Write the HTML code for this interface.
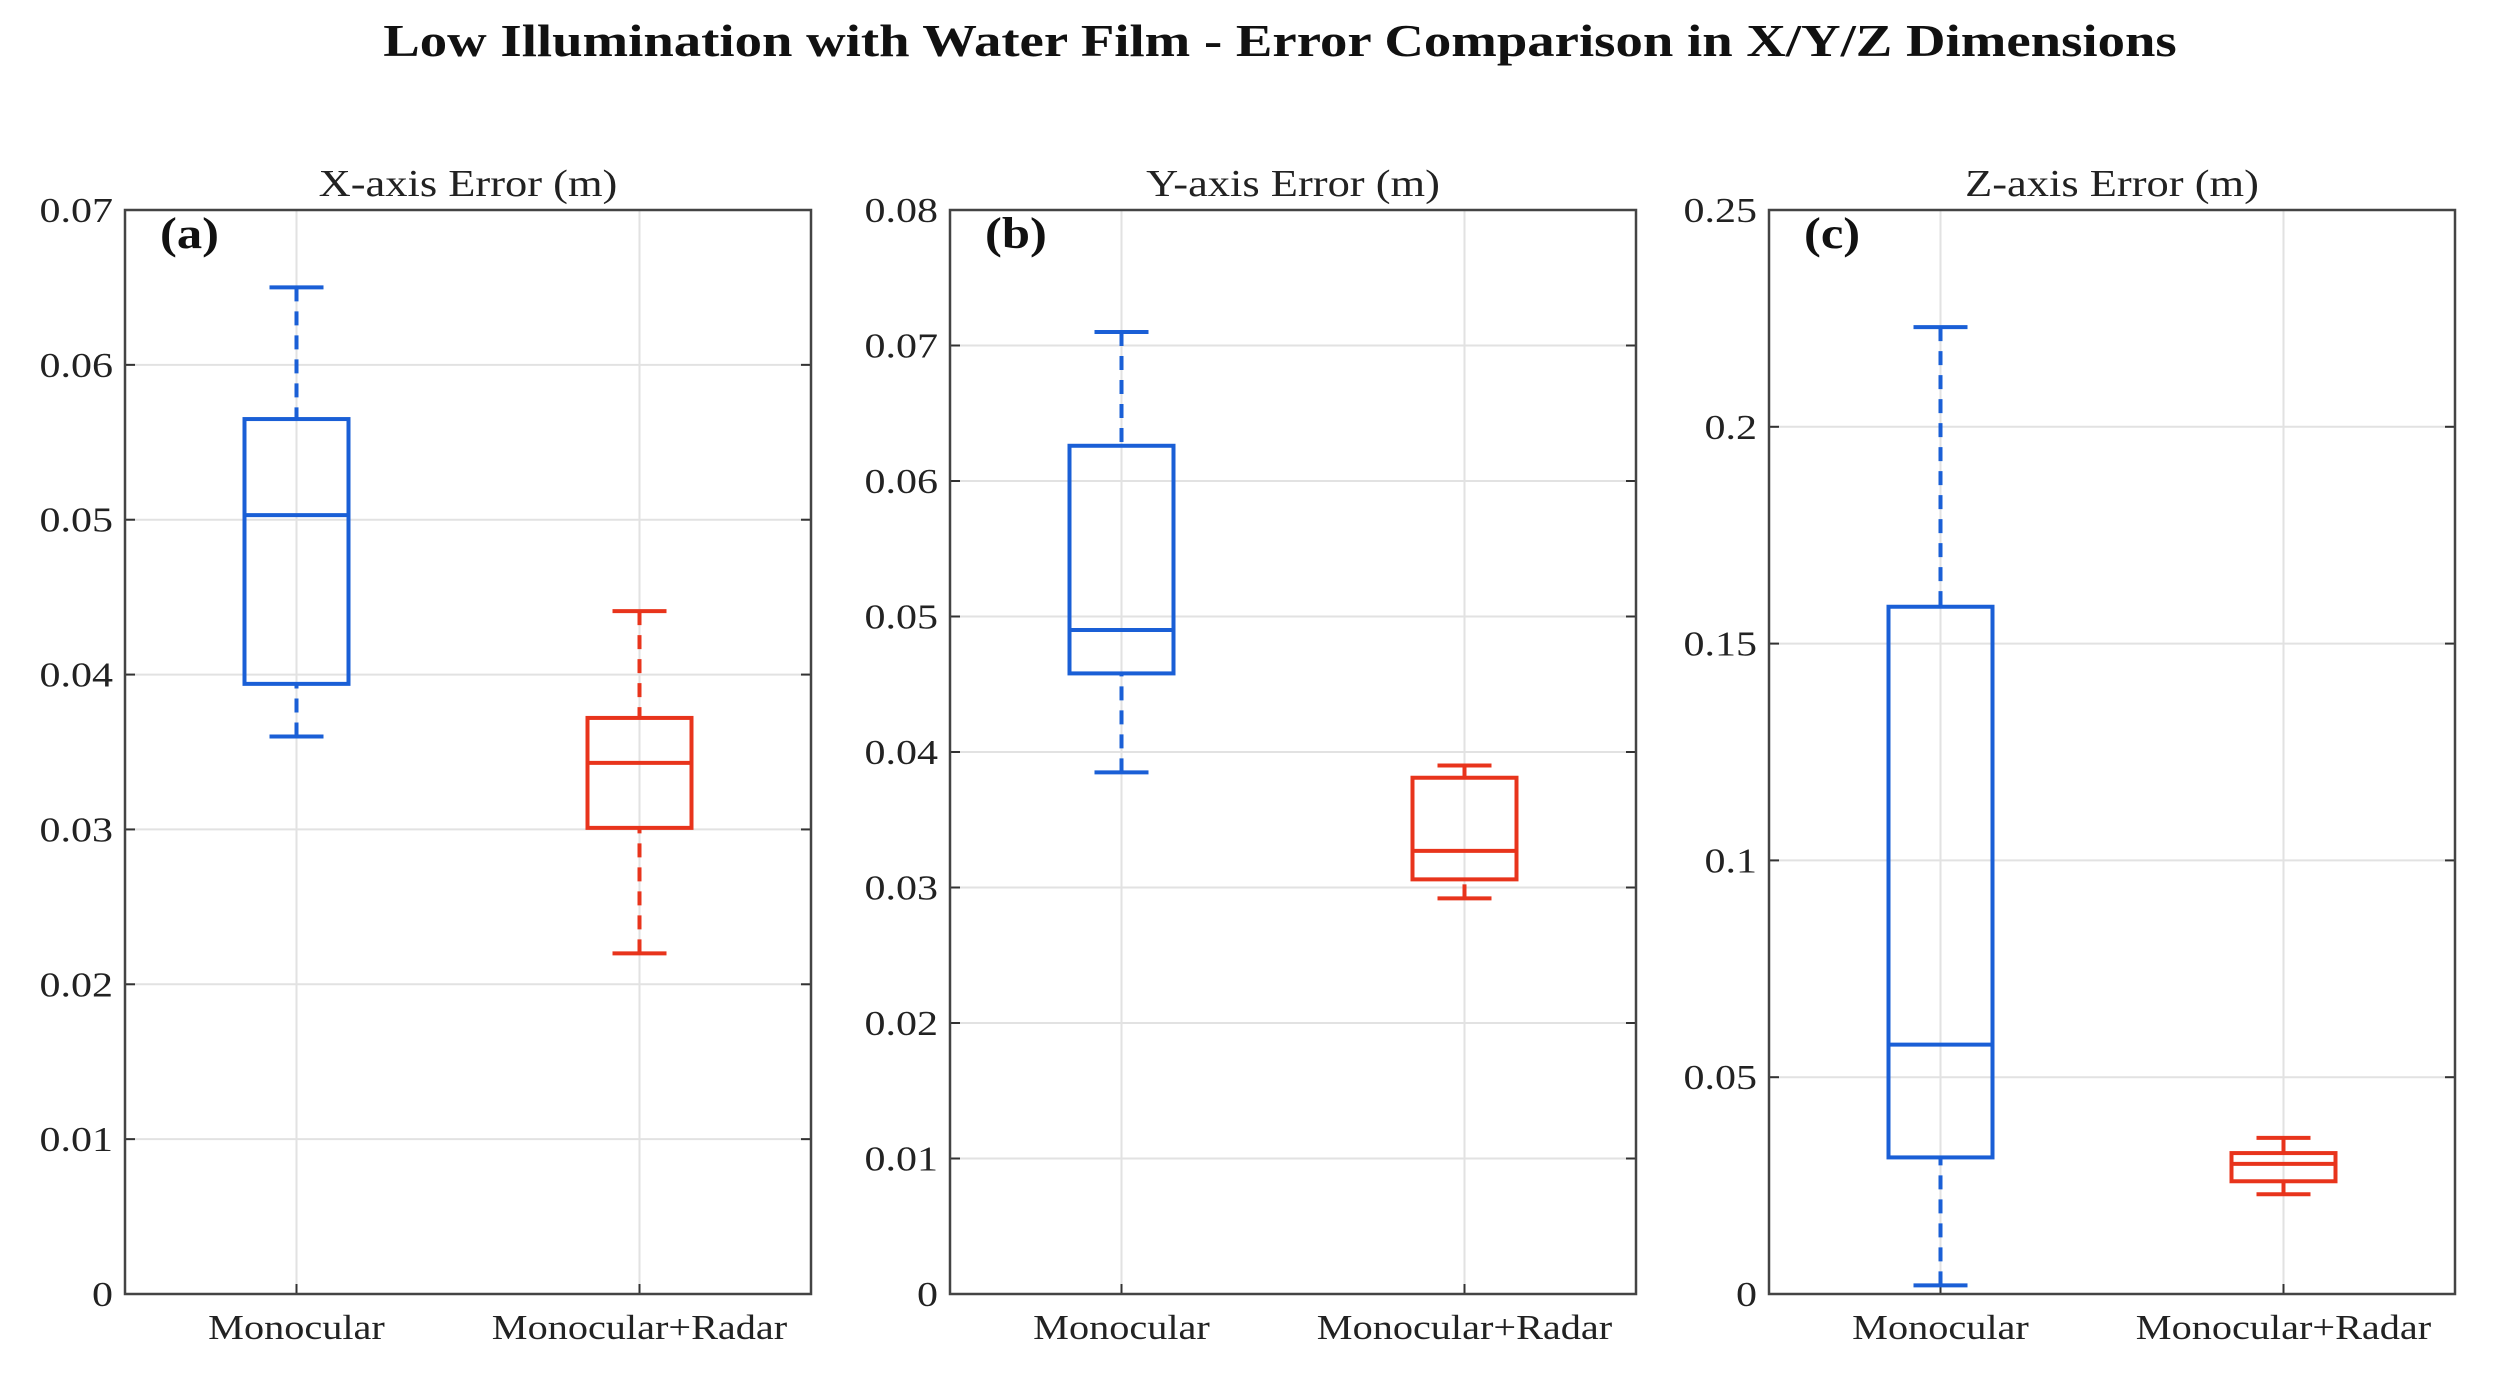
<!DOCTYPE html>
<html><head><meta charset="utf-8">
<style>
html,body{margin:0;padding:0;background:#fff;}
svg{display:block;font-family:"Liberation Serif",serif;}
</style></head>
<body>
<svg id="chart" width="2495" height="1374" viewBox="0 0 2495 1374">
<text id="mainTitle" x="1280" y="56" text-anchor="middle" font-size="46" font-weight="bold" fill="#111">Low Illumination with Water Film - Error Comparison in X/Y/Z Dimensions</text>
</svg>
<script>
const categories = ["Monocular", "Monocular+Radar"];
const panelTitles = ["X-axis Error (m)", "Y-axis Error (m)", "Z-axis Error (m)"];
const panelLetters = ["(a)", "(b)", "(c)"];
const yMax = [0.07, 0.08, 0.25];
const tickValsA = [0, 0.01, 0.02, 0.03, 0.04, 0.05, 0.06, 0.07];
const tickValsB = [0, 0.01, 0.02, 0.03, 0.04, 0.05, 0.06, 0.07, 0.08];
const tickValsC = [0, 0.05, 0.1, 0.15, 0.2, 0.25];
const tickLabelsA = ["0","0.01","0.02","0.03","0.04","0.05","0.06","0.07"];
const tickLabelsB = ["0","0.01","0.02","0.03","0.04","0.05","0.06","0.07","0.08"];
const tickLabelsC = ["0","0.05","0.1","0.15","0.2","0.25"];
// [min, q1, median, q3, max]
const xMono = [0.036, 0.0394, 0.0503, 0.0565, 0.065];
const xRadar = [0.022, 0.0301, 0.0343, 0.0372, 0.0441];
const yMono = [0.0385, 0.0458, 0.049, 0.0626, 0.071];
const yRadar = [0.0292, 0.0306, 0.0327, 0.0381, 0.039];
const zMono = [0.002, 0.0315, 0.0575, 0.1585, 0.223];
const zRadar = [0.023, 0.026, 0.030, 0.0325, 0.036];

const svg = document.getElementById('chart');
const NS = 'http://www.w3.org/2000/svg';
function mk(tag, attrs, parent) {
  const e = document.createElementNS(NS, tag);
  for (const k in attrs) e.setAttribute(k, attrs[k]);
  (parent || svg).appendChild(e);
  return e;
}
function stretch(t, f) {
  const l = t.getComputedTextLength();
  t.setAttribute('textLength', l * f);
  t.setAttribute('lengthAdjust', 'spacingAndGlyphs');
}
stretch(document.getElementById('mainTitle'), 1.19);
const panels = [
  {left:125, ticks:tickValsA, labels:tickLabelsA, data:[xMono, xRadar]},
  {left:950, ticks:tickValsB, labels:tickLabelsB, data:[yMono, yRadar]},
  {left:1769, ticks:tickValsC, labels:tickLabelsC, data:[zMono, zRadar]}
];
const W = 686, TOP = 210, BOT = 1294;
const colors = ["#1a5fd6", "#e8341c"];
panels.forEach((p, pi) => {
  const g = mk('g', {});
  
  
  const yS = v => BOT - v / yMax[pi] * (BOT - TOP);
  const xS = i => p.left + W * (0.25 + 0.5 * i);
  p.ticks.forEach((t, ti) => {
    const y = yS(t);
    if (ti > 0 && ti < p.ticks.length - 1) {
      const gl = mk('line', {x1:p.left, x2:p.left+W, y1:y, y2:y, stroke:'#e2e2e2', 'stroke-width':2}, g);
      
      
    }
    mk('line', {x1:p.left, x2:p.left+10, y1:y, y2:y, stroke:'#333', 'stroke-width':2}, g);
    mk('line', {x1:p.left+W-10, x2:p.left+W, y1:y, y2:y, stroke:'#333', 'stroke-width':2}, g);
    const tl = mk('text', {x:p.left-12, y:y+12, 'text-anchor':'end', 'font-size':35, fill:'#222'}, g);
    tl.textContent = p.labels[ti];
    
    
    stretch(tl, 1.2);
  });
  categories.forEach((c, ci) => {
    const x = xS(ci);
    mk('line', {x1:x, x2:x, y1:TOP, y2:BOT, stroke:'#e2e2e2', 'stroke-width':2}, g);
    mk('line', {x1:x, x2:x, y1:BOT-10, y2:BOT, stroke:'#333', 'stroke-width':2}, g);
    const xl = mk('text', {x:x, y:BOT+45, 'text-anchor':'middle', 'font-size':35, fill:'#222'}, g);
    xl.textContent = c;
    
    
    stretch(xl, 1.15);
  });
  const ax = mk('rect', {x:p.left, y:TOP, width:W, height:BOT-TOP, fill:'none', stroke:'#444', 'stroke-width':2.5}, g);
  
  
  const tt = mk('text', {x:p.left+W/2, y:196, 'text-anchor':'middle', 'font-size':38, fill:'#222'}, g);
  tt.textContent = panelTitles[pi];
  
  
  stretch(tt, 1.17);
  const lt = mk('text', {x:p.left+35, y:248, 'font-size':44, 'font-weight':'bold', fill:'#111'}, g);
  lt.textContent = panelLetters[pi];
  
  
  stretch(lt, 1.15);
  p.data.forEach((d, ci) => {
    const x = xS(ci), col = colors[ci], hw = 52, cw = 27;
    const bg = mk('g', {stroke:col, 'stroke-width':4, fill:'none'}, g);
    
    
    mk('line', {x1:x, x2:x, y1:yS(d[0]), y2:yS(d[1]), 'stroke-dasharray':'14 10'}, bg);
    mk('line', {x1:x, x2:x, y1:yS(d[4]), y2:yS(d[3]), 'stroke-dasharray':'14 10'}, bg);
    mk('line', {x1:x-cw, x2:x+cw, y1:yS(d[0]), y2:yS(d[0])}, bg);
    mk('line', {x1:x-cw, x2:x+cw, y1:yS(d[4]), y2:yS(d[4])}, bg);
    mk('rect', {x:x-hw, y:yS(d[3]), width:2*hw, height:yS(d[1])-yS(d[3])}, bg);
    mk('line', {x1:x-hw, x2:x+hw, y1:yS(d[2]), y2:yS(d[2])}, bg);
  });
});
</script>
</body></html>
